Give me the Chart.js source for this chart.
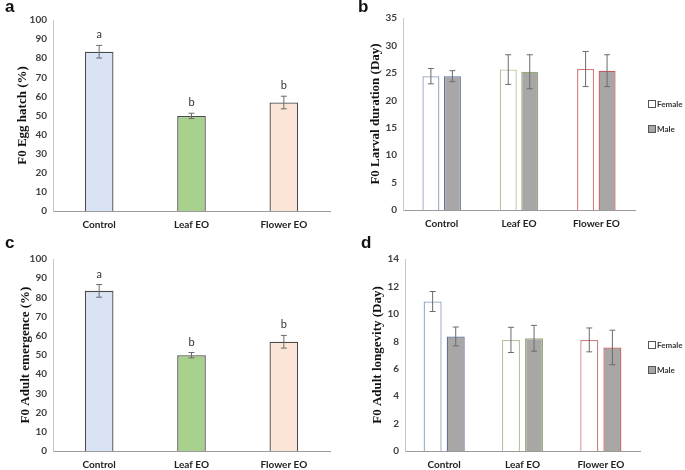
<!DOCTYPE html>
<html>
<head>
<meta charset="utf-8">
<script src="https://cdn.jsdelivr.net/npm/chart.js@4.4.1/dist/chart.umd.min.js"></script>
<style>
  body { margin: 0; background: #fff; }
  .panel { position: absolute; }
  .tag { position: absolute; font-family: "Liberation Sans", Arial, sans-serif; font-weight: bold; font-size: 17px; color: #111; }
  .legend { position: absolute; font-family: Lato, sans-serif; font-weight: bold; font-size: 8px; color: #333; }
  .legend div { height: 12px; line-height: 12px; margin-bottom: 13px; white-space: nowrap; }
  .legend span { display: inline-block; width: 6px; height: 6px; border: 1px solid #555; margin-right: 1px; vertical-align: -1px; }
</style>
</head>
<body>
<div class="panel" style="left:0;top:0"><canvas id="chartA" width="340" height="235"></canvas></div>
<div class="panel" style="left:340px;top:0"><canvas id="chartB" width="345" height="235"></canvas></div>
<div class="panel" style="left:0;top:235px"><canvas id="chartC" width="340" height="235"></canvas></div>
<div class="panel" style="left:340px;top:235px"><canvas id="chartD" width="345" height="235"></canvas></div>
<div class="tag" style="left:5px;top:-3px">a</div>
<div class="tag" style="left:358px;top:-3px">b</div>
<div class="tag" style="left:5px;top:233px">c</div>
<div class="tag" style="left:361px;top:233px">d</div>
<div class="legend" id="legendB" style="left:648px;top:98px"></div>
<div class="legend" id="legendD" style="left:648px;top:339px"></div>
<script>
// ---- data ----
const categories = ["Control", "Leaf EO", "Flower EO"];
const seriesNames = ["Female", "Male"];

const eggHatch = [83.4, 49.8, 56.8];
const eggHatchErr = [3.3, 1.4, 3.3];
const eggLetters = ["a", "b", "b"];

const adultEmergence = [83.4, 49.9, 56.9];
const adultEmergenceErr = [3.3, 1.4, 3.3];
const emergenceLetters = ["a", "b", "b"];

const larvalFemale = [24.4, 25.6, 25.7];
const larvalFemaleErr = [1.4, 2.7, 3.2];
const larvalMale = [24.4, 25.2, 25.4];
const larvalMaleErr = [1.0, 3.1, 2.9];

const longevityFemale = [10.9, 8.1, 8.1];
const longevityFemaleErr = [0.73, 0.92, 0.87];
const longevityMale = [8.35, 8.22, 7.55];
const longevityMaleErr = [0.69, 0.94, 1.26];

const singleColors = ["#dae3f3", "#a9d18e", "#fbe5d6"];
const femaleFill = "#ffffff";
const maleFill = "#a9a6a6";
const femaleBorders = ["#8ea0bd", "#b2c59c", "#d27b7b"];
const maleBorders = ["#5c709a", "#93ab7c", "#c45a5a"];

const tickFont = { family: "Lato", size: 10, weight: "bold" };
const catFont = { family: "Lato", size: 10, weight: "bold" };
const titleFont = { family: "Liberation Serif", size: 13, weight: "bold" };

// draws error bars and significance letters from dataset.errors / dataset.letters
const errorBarPlugin = {
  id: "errorBars",
  afterDatasetsDraw(chart) {
    const ctx = chart.ctx;
    const yScale = chart.scales.y;
    chart.data.datasets.forEach((ds, i) => {
      const meta = chart.getDatasetMeta(i);
      meta.data.forEach((bar, j) => {
        const v = ds.data[j];
        const e = ds.errors[j];
        const yTop = yScale.getPixelForValue(v + e);
        const yBot = yScale.getPixelForValue(v - e);
        ctx.save();
        ctx.strokeStyle = "#6b6b6b";
        ctx.lineWidth = 1;
        ctx.beginPath();
        ctx.moveTo(bar.x, yTop);
        ctx.lineTo(bar.x, yBot);
        ctx.moveTo(bar.x - 3, yTop);
        ctx.lineTo(bar.x + 3, yTop);
        ctx.moveTo(bar.x - 3, yBot);
        ctx.lineTo(bar.x + 3, yBot);
        ctx.stroke();
        if (ds.letters) {
          ctx.fillStyle = "#333";
          ctx.font = "11px Lato";
          ctx.textAlign = "center";
          ctx.textBaseline = "bottom";
          ctx.fillText(ds.letters[j], bar.x, yTop - 5);
        }
        ctx.restore();
      });
    });
  },
};

function makeOptions(opts) {
  return {
    responsive: false,
    animation: false,
    layout: { padding: opts.padding },
    plugins: {
      legend: { display: false },
      tooltip: { enabled: false },
    },
    scales: {
      x: {
        grid: { display: false, drawTicks: false },
        border: { display: true, color: "#9a9a9a" },
        ticks: { font: catFont, color: "#222", padding: opts.xPad },
        afterFit: (scale) => { scale.height = opts.xHeight; },
      },
      y: {
        min: 0,
        max: opts.yMax,
        grid: { display: false, drawTicks: false },
        border: { display: true, color: "#c8c8c8" },
        ticks: { stepSize: opts.step, font: tickFont, color: "#404040", padding: 6 },
        title: {
          display: true,
          text: opts.title,
          font: titleFont,
          color: "#111",
          padding: { top: opts.titlePad, bottom: 0 },
        },
        afterFit: (scale) => { scale.width = opts.yWidth; },
      },
    },
  };
}

function singleChart(id, values, errs, letters, opts) {
  new Chart(id, {
    type: "bar",
    data: {
      labels: categories,
      datasets: [
        {
          data: values,
          errors: errs,
          letters: letters,
          backgroundColor: singleColors,
          borderColor: "#4a4a4a",
          borderWidth: 1.3,
          categoryPercentage: 1,
          barPercentage: 0.31,
        },
      ],
    },
    options: makeOptions(Object.assign({ yMax: 100, step: 10 }, opts)),
    plugins: [errorBarPlugin],
  });
}

function pairChart(id, female, femaleErr, male, maleErr, opts) {
  new Chart(id, {
    type: "bar",
    data: {
      labels: categories,
      datasets: [
        {
          label: seriesNames[0],
          data: female,
          errors: femaleErr,
          backgroundColor: femaleFill,
          borderColor: femaleBorders,
          borderWidth: 1.3,
          categoryPercentage: opts.catPct,
          barPercentage: opts.barPct,
        },
        {
          label: seriesNames[1],
          data: male,
          errors: maleErr,
          backgroundColor: maleFill,
          borderColor: maleBorders,
          borderWidth: 1.3,
          categoryPercentage: opts.catPct,
          barPercentage: opts.barPct,
        },
      ],
    },
    options: makeOptions(opts),
    plugins: [errorBarPlugin],
  });
}

function buildLegend(id) {
  const box = document.getElementById(id);
  [femaleFill, maleFill].forEach((fill, i) => {
    const row = document.createElement("div");
    const sw = document.createElement("span");
    sw.style.background = fill;
    row.appendChild(sw);
    row.appendChild(document.createTextNode(seriesNames[i]));
    box.appendChild(row);
  });
}

singleChart("chartA", eggHatch, eggHatchErr, eggLetters, {
  title: "F0 Egg hatch (%)",
  padding: { top: 20, right: 10, left: 0, bottom: 0 },
  yWidth: 53, titlePad: 15, xHeight: 24, xPad: 8,
});
singleChart("chartC", adultEmergence, adultEmergenceErr, emergenceLetters, {
  title: "F0 Adult emergence (%)",
  padding: { top: 24, right: 10, left: 0, bottom: 0 },
  yWidth: 53, titlePad: 18, xHeight: 19, xPad: 8,
});
pairChart("chartB", larvalFemale, larvalFemaleErr, larvalMale, larvalMaleErr, {
  yMax: 35, step: 5,
  title: "F0 Larval duration (Day)",
  padding: { top: 18, right: 50, left: 0, bottom: 1 },
  yWidth: 63, titlePad: 28, xHeight: 24, xPad: 8,
  catPct: 0.556, barPct: 0.79,
});
pairChart("chartD", longevityFemale, longevityFemaleErr, longevityMale, longevityMaleErr, {
  yMax: 14, step: 2,
  title: "F0 Adult longevity (Day)",
  padding: { top: 24, right: 45, left: 0, bottom: 0 },
  yWidth: 65, titlePad: 30, xHeight: 19, xPad: 8,
  catPct: 0.59, barPct: 0.78,
});
buildLegend("legendB");
buildLegend("legendD");
</script>
</body>
</html>
